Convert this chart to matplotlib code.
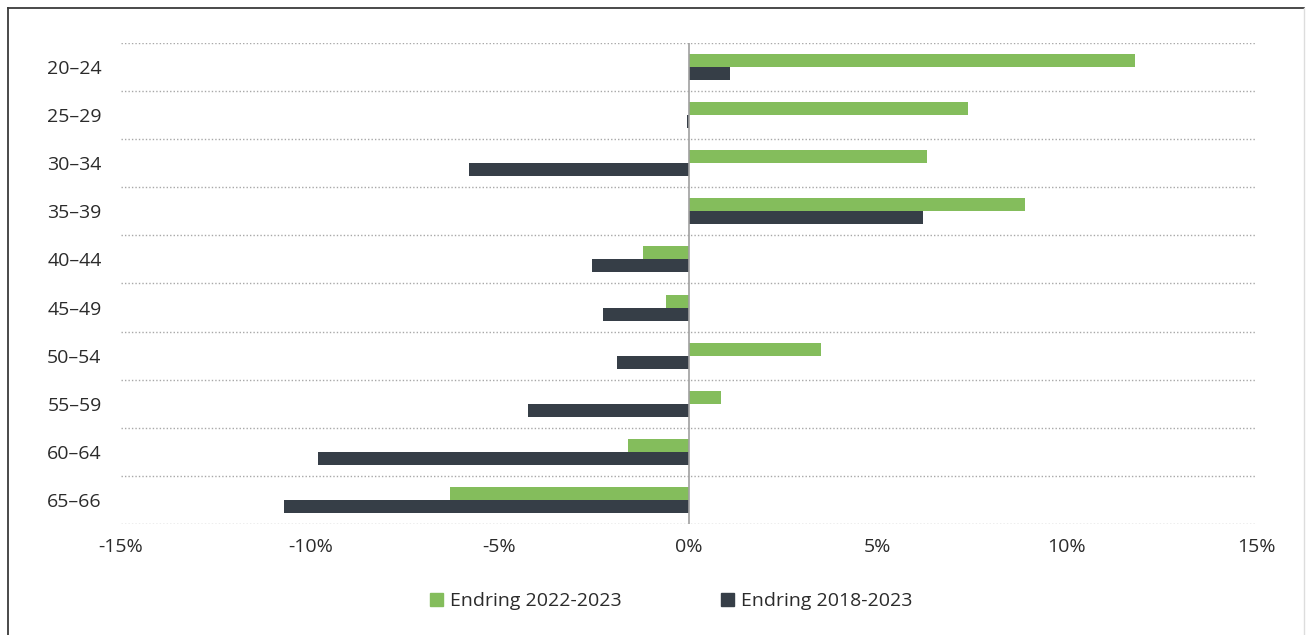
import numpy as np
import matplotlib.pyplot as plt
from matplotlib.lines import Line2D
from matplotlib.patches import Patch

plt.rcParams['font.family'] = ['Open Sans', 'DejaVu Sans']

groups = ['20–24', '25–29', '30–34', '35–39', '40–44',
          '45–49', '50–54', '55–59', '60–64', '65–66']
change_22_23 = [11.8, 7.4, 6.3, 8.9, -1.2, -0.6, 3.5, 0.85, -1.6, -6.3]
change_18_23 = [1.1, -0.05, -5.8, 6.2, -2.55, -2.25, -1.9, -4.25, -9.8, -10.7]

green = '#84bd5c'
dark = '#363e47'
text_col = '#2b2b2b'

fig = plt.figure(figsize=(13.07, 6.35), dpi=100)
ax = fig.add_axes([0.0926, 0.1748, 0.8684, 0.7575])

y = np.arange(len(groups))
h = 0.27
ax.barh(y - h / 2, change_22_23, height=h, color=green, label='Endring 2022-2023')
ax.barh(y + h / 2, change_18_23, height=h, color=dark, label='Endring 2018-2023')

ax.set_xlim(-15, 15)
ax.set_ylim(len(groups) - 0.5, -0.5)
ax.set_xticks(np.arange(-15, 16, 5))
ax.set_xticklabels([f'{v}%' for v in range(-15, 16, 5)])
ax.set_yticks(y)
ax.set_yticklabels(groups)

# dotted separators between the age groups
for b in np.arange(-0.5, len(groups), 1):
    ax.axhline(b, color='#a8a8a8', lw=1, ls=(0, (1, 1.5)), zorder=0)
ax.axvline(0, color='#a0a0a0', lw=1.2, zorder=3)

for s in ax.spines.values():
    s.set_visible(False)
ax.tick_params(axis='both', length=0, labelsize=14, colors=text_col)
ax.tick_params(axis='y', pad=14)
ax.tick_params(axis='x', pad=10)

handles = [Patch(color=green, label='Endring 2022-2023'),
           Patch(color=dark, label='Endring 2018-2023')]
fig.legend(handles=handles, loc='center', bbox_to_anchor=(0.5135, 0.053), ncol=2,
           frameon=False, fontsize=14, handlelength=0.7, handleheight=0.7,
           handletextpad=0.35, columnspacing=5.1, labelcolor=text_col)

# outer frame
fig.add_artist(Line2D([8 / 1307, 8 / 1307], [0, 627 / 635], color='#3a3a3a', lw=1.3))
fig.add_artist(Line2D([8 / 1307, 1304 / 1307], [627 / 635, 627 / 635], color='#3a3a3a', lw=1.3))
fig.add_artist(Line2D([1304 / 1307, 1304 / 1307], [0, 627 / 635], color='#dddddd', lw=1))

fig.savefig('out.png', dpi=100)
